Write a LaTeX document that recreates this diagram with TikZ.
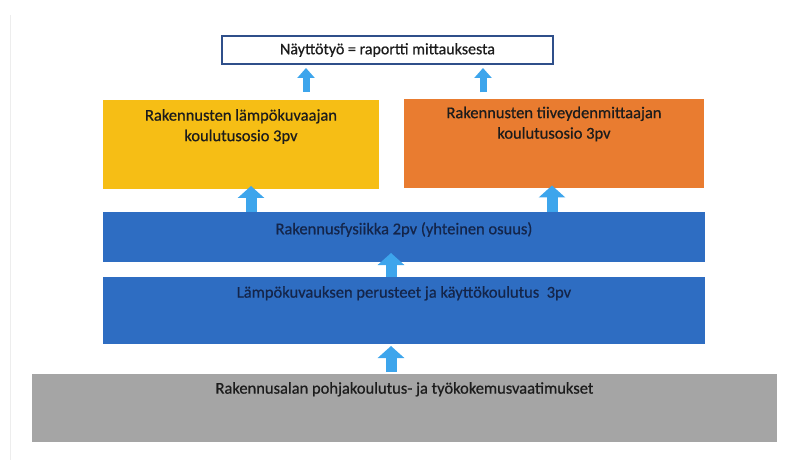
\documentclass[tikz,border=0pt]{standalone}
\usepackage{fontspec}
\setmainfont{Carlito}[FakeBold=0.6]
\usetikzlibrary{arrows.meta}
\begin{document}
\begin{tikzpicture}[x=1pt,y=-1pt,
   box/.style={rectangle,inner sep=0pt,outer sep=0pt},
   boxtext/.style={anchor=north,align=center,inner sep=0pt,text=textdark,
     font=\fontsize{16.5}{20.5}\selectfont},
   bigup/.style={arrowblue,line width=11pt,-{Triangle[width=26pt,length=12pt]}},
   smallup/.style={arrowblue,line width=7pt,-{Triangle[width=17pt,length=10pt]}}]
   \definecolor{topline}{HTML}{2F4F8A}
   \definecolor{yellowbox}{HTML}{F6BE15}
   \definecolor{orangebox}{HTML}{E97C30}
   \definecolor{bluebox}{HTML}{2E6DC2}
   \definecolor{graybox}{HTML}{A5A5A5}
   \definecolor{arrowblue}{HTML}{3DA5EC}
   \definecolor{textdark}{HTML}{1C1C1C}
   \definecolor{textnavy}{HTML}{14254A}
   \useasboundingbox (0,0) rectangle (791,470);
   \draw [black!7,line width=1pt] (10,15) -- (10,460);
   % boxes
   \node [box,draw=topline,line width=1.3pt,fill=white,minimum width=331pt,minimum height=28pt,
     font=\fontsize{16}{19}\selectfont,text=textdark] (top) at (387.5,50) {Näyttötyö = raportti mittauksesta};
   \node [box,fill=yellowbox,minimum width=276pt,minimum height=89pt,
     label={[boxtext,yshift=-9pt]north:Rakennusten lämpökuvaajan\\koulutusosio 3pv}] (yellow) at (241,144.5) {};
   \node [box,fill=orangebox,minimum width=300pt,minimum height=89pt,
     label={[boxtext,yshift=-7pt]north:Rakennusten tiiveydenmittaajan\\koulutusosio 3pv}] (orange) at (554,144) {};
   \node [box,fill=bluebox,minimum width=602pt,minimum height=50pt,
     label={[boxtext,text=textnavy,yshift=-10pt]north:Rakennusfysiikka 2pv (yhteinen osuus)}] (fysiikka) at (404,237) {};
   \node [box,fill=bluebox,minimum width=602pt,minimum height=67pt,
     label={[boxtext,text=textnavy,yshift=-9pt]north:Lämpökuvauksen perusteet ja käyttökoulutus~~3pv}] (perusteet) at (404,310.5) {};
   \node [box,fill=graybox,minimum width=745pt,minimum height=68pt,
     label={[boxtext,yshift=-8pt]north:Rakennusalan pohjakoulutus-~ja työkokemusvaatimukset}] (pohja) at (404.5,408) {};
   % arrows
   \coordinate (x1) at (306,0);
   \coordinate (x2) at (483,0);
   \coordinate (x3) at (251,0);
   \coordinate (x4) at (552,0);
   \coordinate (x5) at (391,0);
   \draw [smallup,shorten <=8pt,shorten >=4pt] (x1 |- yellow.north) -- (x1 |- top.south);
   \draw [smallup,shorten <=7pt,shorten >=4pt] (x2 |- orange.north) -- (x2 |- top.south);
   \draw [bigup,shorten >=-3pt] (x3 |- fysiikka.north) -- (x3 |- yellow.south);
   \draw [bigup,shorten >=-3pt] (x4 |- fysiikka.north) -- (x4 |- orange.south);
   \draw [bigup,shorten >=-9pt] (x5 |- perusteet.north) -- (x5 |- fysiikka.south);
   \draw [bigup,shorten <=2pt,shorten >=2pt] (x5 |- pohja.north) -- (x5 |- perusteet.south);
\end{tikzpicture}
\end{document}
